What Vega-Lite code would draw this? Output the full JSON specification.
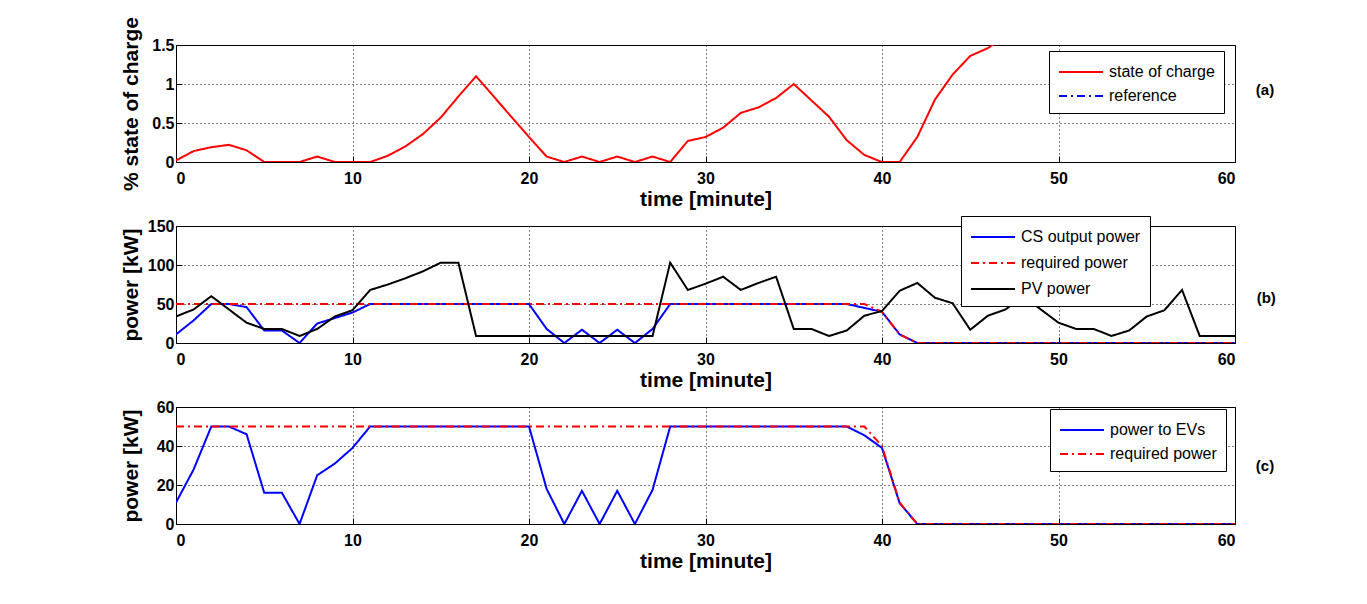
{
  "$schema": "https://vega.github.io/schema/vega-lite/v6.json",
  "background": "#ffffff",
  "padding": {"left": 119, "top": 16, "right": 80, "bottom": 20},
  "spacing": 64,
  "bounds": "flush",
  "resolve": {
    "scale": {"color": "independent", "strokeDash": "independent"},
    "legend": {"color": "independent", "strokeDash": "independent"}
  },
  "config": {
    "font": "Liberation Sans",
    "view": {"stroke": "#000000", "strokeWidth": 1},
    "axis": {
      "labelFont": "Liberation Sans",
      "labelFontSize": 16,
      "labelFontWeight": "bold",
      "labelColor": "#000000",
      "titleFont": "Liberation Sans",
      "titleFontSize": 21,
      "titleFontWeight": "bold",
      "titleColor": "#000000",
      "domainColor": "#000000",
      "tickColor": "#000000",
      "tickSize": -6,
      "labelPadding": 8,
      "grid": true,
      "gridColor": "#000000",
      "gridDash": [1, 3],
      "gridOpacity": 1
    },
    "axisX": {"labelPadding": 14, "titlePadding": 2},
    "axisY": {"titleX": -45, "titleBaseline": "middle"},
    "legend": {
      "labelFont": "Liberation Sans",
      "labelFontSize": 16,
      "labelColor": "#000000",
      "strokeColor": "#000000",
      "fillColor": "#ffffff",
      "padding": 9,
      "rowPadding": 4,
      "symbolType": "M-1,0H3",
      "symbolSize": 484,
      "symbolStrokeWidth": 2,
      "labelOffset": 27,
      "title": null
    },
    "title": {"fontSize": 15, "fontWeight": "bold", "font": "Liberation Sans", "color": "#000000"}
  },
  "vconcat": [
    {
      "width": 1059,
      "height": 117,
      "title": {"text": "(a)", "orient": "right", "angle": 0, "anchor": "middle", "align": "left", "baseline": "middle", "offset": 2, "dy": -14},
      "data": {"values": [
        {"t": 0, "soc": 0.02}, {"t": 1, "soc": 0.14}, {"t": 2, "soc": 0.19}, {"t": 3, "soc": 0.22},
        {"t": 4, "soc": 0.15}, {"t": 5, "soc": 0}, {"t": 6, "soc": 0}, {"t": 7, "soc": 0},
        {"t": 8, "soc": 0.07}, {"t": 9, "soc": 0}, {"t": 10, "soc": 0}, {"t": 11, "soc": 0},
        {"t": 12, "soc": 0.08}, {"t": 13, "soc": 0.2}, {"t": 14, "soc": 0.36}, {"t": 15, "soc": 0.57},
        {"t": 16, "soc": 0.84}, {"t": 17, "soc": 1.1}, {"t": 18, "soc": 0.84}, {"t": 19, "soc": 0.58},
        {"t": 20, "soc": 0.32}, {"t": 21, "soc": 0.07}, {"t": 22, "soc": 0}, {"t": 23, "soc": 0.07},
        {"t": 24, "soc": 0}, {"t": 25, "soc": 0.07}, {"t": 26, "soc": 0}, {"t": 27, "soc": 0.07},
        {"t": 28, "soc": 0}, {"t": 29, "soc": 0.27}, {"t": 30, "soc": 0.32}, {"t": 31, "soc": 0.44},
        {"t": 32, "soc": 0.63}, {"t": 33, "soc": 0.7}, {"t": 34, "soc": 0.82}, {"t": 35, "soc": 1.0},
        {"t": 36, "soc": 0.79}, {"t": 37, "soc": 0.58}, {"t": 38, "soc": 0.28}, {"t": 39, "soc": 0.09},
        {"t": 40, "soc": 0}, {"t": 41, "soc": 0}, {"t": 42, "soc": 0.32}, {"t": 43, "soc": 0.8},
        {"t": 44, "soc": 1.12}, {"t": 45, "soc": 1.36}, {"t": 46, "soc": 1.46}, {"t": 47, "soc": 1.62}
      ]},
      "transform": [{"fold": ["soc"], "as": ["series", "value"]}],
      "mark": {"type": "line", "strokeWidth": 2, "clip": true},
      "encoding": {
        "x": {"field": "t", "type": "quantitative", "scale": {"domain": [0, 60], "nice": false},
          "axis": {"title": "time [minute]", "values": [0, 10, 20, 30, 40, 50, 60]}},
        "y": {"field": "value", "type": "quantitative", "scale": {"domain": [0, 1.5], "nice": false},
          "axis": {"title": "% state of charge", "values": [0, 0.5, 1, 1.5], "format": "~g"}},
        "color": {"field": "series", "type": "nominal",
          "scale": {"domain": ["soc", "ref"], "range": ["#ff0000", "#0000ff"]},
          "legend": {"orient": "none", "legendX": 873, "legendY": 6,
            "labelExpr": "datum.label == 'soc' ? 'state of charge' : 'reference'"}},
        "strokeDash": {"field": "series", "type": "nominal",
          "scale": {"domain": ["soc", "ref"], "range": [[1, 0], [8, 4, 2, 4]]},
          "legend": {"orient": "none", "legendX": 873, "legendY": 6,
            "labelExpr": "datum.label == 'soc' ? 'state of charge' : 'reference'"}}
      }
    },
    {
      "width": 1059,
      "height": 117,
      "title": {"text": "(b)", "orient": "right", "angle": 0, "anchor": "middle", "align": "left", "baseline": "middle", "offset": 2, "dy": 13},
      "data": {"values": [
        {"t": 0, "cs": 11, "req": 50, "pv": 34}, {"t": 1, "cs": 29, "req": 50, "pv": 43},
        {"t": 2, "cs": 50, "req": 50, "pv": 60}, {"t": 3, "cs": 50, "req": 50, "pv": 43},
        {"t": 4, "cs": 46, "req": 50, "pv": 26}, {"t": 5, "cs": 16, "req": 50, "pv": 18},
        {"t": 6, "cs": 16, "req": 50, "pv": 18}, {"t": 7, "cs": 0, "req": 50, "pv": 9},
        {"t": 8, "cs": 25, "req": 50, "pv": 18}, {"t": 9, "cs": 32, "req": 50, "pv": 34},
        {"t": 10, "cs": 39, "req": 50, "pv": 42}, {"t": 11, "cs": 50, "req": 50, "pv": 68},
        {"t": 12, "cs": 50, "req": 50, "pv": 75}, {"t": 13, "cs": 50, "req": 50, "pv": 83},
        {"t": 14, "cs": 50, "req": 50, "pv": 92}, {"t": 15, "cs": 50, "req": 50, "pv": 103},
        {"t": 16, "cs": 50, "req": 50, "pv": 103}, {"t": 17, "cs": 50, "req": 50, "pv": 9},
        {"t": 18, "cs": 50, "req": 50, "pv": 9}, {"t": 19, "cs": 50, "req": 50, "pv": 9},
        {"t": 20, "cs": 50, "req": 50, "pv": 9}, {"t": 21, "cs": 18, "req": 50, "pv": 9},
        {"t": 22, "cs": 0, "req": 50, "pv": 9}, {"t": 23, "cs": 17, "req": 50, "pv": 9},
        {"t": 24, "cs": 0, "req": 50, "pv": 9}, {"t": 25, "cs": 17, "req": 50, "pv": 9},
        {"t": 26, "cs": 0, "req": 50, "pv": 9}, {"t": 27, "cs": 18, "req": 50, "pv": 9},
        {"t": 28, "cs": 50, "req": 50, "pv": 103}, {"t": 29, "cs": 50, "req": 50, "pv": 68},
        {"t": 30, "cs": 50, "req": 50, "pv": 76}, {"t": 31, "cs": 50, "req": 50, "pv": 85},
        {"t": 32, "cs": 50, "req": 50, "pv": 68}, {"t": 33, "cs": 50, "req": 50, "pv": 77},
        {"t": 34, "cs": 50, "req": 50, "pv": 85}, {"t": 35, "cs": 50, "req": 50, "pv": 18},
        {"t": 36, "cs": 50, "req": 50, "pv": 18}, {"t": 37, "cs": 50, "req": 50, "pv": 9},
        {"t": 38, "cs": 50, "req": 50, "pv": 16}, {"t": 39, "cs": 45, "req": 50, "pv": 35},
        {"t": 40, "cs": 40, "req": 40, "pv": 41}, {"t": 41, "cs": 11, "req": 11, "pv": 67},
        {"t": 42, "cs": 0, "req": 0, "pv": 77}, {"t": 43, "cs": 0, "req": 0, "pv": 58},
        {"t": 44, "cs": 0, "req": 0, "pv": 51}, {"t": 45, "cs": 0, "req": 0, "pv": 17},
        {"t": 46, "cs": 0, "req": 0, "pv": 35}, {"t": 47, "cs": 0, "req": 0, "pv": 43},
        {"t": 48, "cs": 0, "req": 0, "pv": 60}, {"t": 49, "cs": 0, "req": 0, "pv": 43},
        {"t": 50, "cs": 0, "req": 0, "pv": 26}, {"t": 51, "cs": 0, "req": 0, "pv": 18},
        {"t": 52, "cs": 0, "req": 0, "pv": 18}, {"t": 53, "cs": 0, "req": 0, "pv": 9},
        {"t": 54, "cs": 0, "req": 0, "pv": 16}, {"t": 55, "cs": 0, "req": 0, "pv": 34},
        {"t": 56, "cs": 0, "req": 0, "pv": 42}, {"t": 57, "cs": 0, "req": 0, "pv": 68},
        {"t": 58, "cs": 0, "req": 0, "pv": 9}, {"t": 59, "cs": 0, "req": 0, "pv": 9},
        {"t": 60, "cs": 0, "req": 0, "pv": 9}
      ]},
      "transform": [{"fold": ["cs", "req", "pv"], "as": ["series", "value"]}],
      "mark": {"type": "line", "strokeWidth": 2, "clip": true},
      "encoding": {
        "x": {"field": "t", "type": "quantitative", "scale": {"domain": [0, 60], "nice": false},
          "axis": {"title": "time [minute]", "values": [0, 10, 20, 30, 40, 50, 60]}},
        "y": {"field": "value", "type": "quantitative", "scale": {"domain": [0, 150], "nice": false},
          "axis": {"title": "power [kW]", "values": [0, 50, 100, 150]}},
        "color": {"field": "series", "type": "nominal",
          "scale": {"domain": ["cs", "req", "pv"], "range": ["#0000ff", "#ff0000", "#000000"]},
          "legend": {"orient": "none", "legendX": 785, "legendY": -10, "rowPadding": 6,
            "labelExpr": "datum.label == 'cs' ? 'CS output power' : datum.label == 'req' ? 'required power' : 'PV power'"}},
        "strokeDash": {"field": "series", "type": "nominal",
          "scale": {"domain": ["cs", "req", "pv"], "range": [[1, 0], [8, 4, 2, 4], [1, 0]]},
          "legend": {"orient": "none", "legendX": 785, "legendY": -10, "rowPadding": 6,
            "labelExpr": "datum.label == 'cs' ? 'CS output power' : datum.label == 'req' ? 'required power' : 'PV power'"}}
      }
    },
    {
      "width": 1059,
      "height": 117,
      "title": {"text": "(c)", "orient": "right", "angle": 0, "anchor": "middle", "align": "left", "baseline": "middle", "offset": 2, "dy": 0},
      "data": {"values": [
        {"t": 0, "ev": 11, "req": 50}, {"t": 1, "ev": 28, "req": 50}, {"t": 2, "ev": 50, "req": 50},
        {"t": 3, "ev": 50, "req": 50}, {"t": 4, "ev": 46, "req": 50}, {"t": 5, "ev": 16, "req": 50},
        {"t": 6, "ev": 16, "req": 50}, {"t": 7, "ev": 0, "req": 50}, {"t": 8, "ev": 25, "req": 50},
        {"t": 9, "ev": 31, "req": 50}, {"t": 10, "ev": 39, "req": 50}, {"t": 11, "ev": 50, "req": 50},
        {"t": 12, "ev": 50, "req": 50}, {"t": 13, "ev": 50, "req": 50}, {"t": 14, "ev": 50, "req": 50},
        {"t": 15, "ev": 50, "req": 50}, {"t": 16, "ev": 50, "req": 50}, {"t": 17, "ev": 50, "req": 50},
        {"t": 18, "ev": 50, "req": 50}, {"t": 19, "ev": 50, "req": 50}, {"t": 20, "ev": 50, "req": 50},
        {"t": 21, "ev": 18, "req": 50}, {"t": 22, "ev": 0, "req": 50}, {"t": 23, "ev": 17, "req": 50},
        {"t": 24, "ev": 0, "req": 50}, {"t": 25, "ev": 17, "req": 50}, {"t": 26, "ev": 0, "req": 50},
        {"t": 27, "ev": 17.5, "req": 50}, {"t": 28, "ev": 50, "req": 50}, {"t": 29, "ev": 50, "req": 50},
        {"t": 30, "ev": 50, "req": 50}, {"t": 31, "ev": 50, "req": 50}, {"t": 32, "ev": 50, "req": 50},
        {"t": 33, "ev": 50, "req": 50}, {"t": 34, "ev": 50, "req": 50}, {"t": 35, "ev": 50, "req": 50},
        {"t": 36, "ev": 50, "req": 50}, {"t": 37, "ev": 50, "req": 50}, {"t": 38, "ev": 50, "req": 50},
        {"t": 39, "ev": 45.5, "req": 50}, {"t": 40, "ev": 39, "req": 40}, {"t": 41, "ev": 10.7, "req": 11},
        {"t": 42, "ev": 0, "req": 0}, {"t": 43, "ev": 0, "req": 0}, {"t": 44, "ev": 0, "req": 0},
        {"t": 45, "ev": 0, "req": 0}, {"t": 46, "ev": 0, "req": 0}, {"t": 47, "ev": 0, "req": 0},
        {"t": 48, "ev": 0, "req": 0}, {"t": 49, "ev": 0, "req": 0}, {"t": 50, "ev": 0, "req": 0},
        {"t": 51, "ev": 0, "req": 0}, {"t": 52, "ev": 0, "req": 0}, {"t": 53, "ev": 0, "req": 0},
        {"t": 54, "ev": 0, "req": 0}, {"t": 55, "ev": 0, "req": 0}, {"t": 56, "ev": 0, "req": 0},
        {"t": 57, "ev": 0, "req": 0}, {"t": 58, "ev": 0, "req": 0}, {"t": 59, "ev": 0, "req": 0},
        {"t": 60, "ev": 0, "req": 0}
      ]},
      "transform": [{"fold": ["ev", "req"], "as": ["series", "value"]}],
      "mark": {"type": "line", "strokeWidth": 2, "clip": true},
      "encoding": {
        "x": {"field": "t", "type": "quantitative", "scale": {"domain": [0, 60], "nice": false},
          "axis": {"title": "time [minute]", "values": [0, 10, 20, 30, 40, 50, 60]}},
        "y": {"field": "value", "type": "quantitative", "scale": {"domain": [0, 60], "nice": false},
          "axis": {"title": "power [kW]", "values": [0, 20, 40, 60]}},
        "color": {"field": "series", "type": "nominal",
          "scale": {"domain": ["ev", "req"], "range": ["#0000ff", "#ff0000"]},
          "legend": {"orient": "none", "legendX": 874, "legendY": 2,
            "labelExpr": "datum.label == 'ev' ? 'power to EVs' : 'required power'"}},
        "strokeDash": {"field": "series", "type": "nominal",
          "scale": {"domain": ["ev", "req"], "range": [[1, 0], [8, 4, 2, 4]]},
          "legend": {"orient": "none", "legendX": 874, "legendY": 2,
            "labelExpr": "datum.label == 'ev' ? 'power to EVs' : 'required power'"}}
      }
    }
  ]
}
